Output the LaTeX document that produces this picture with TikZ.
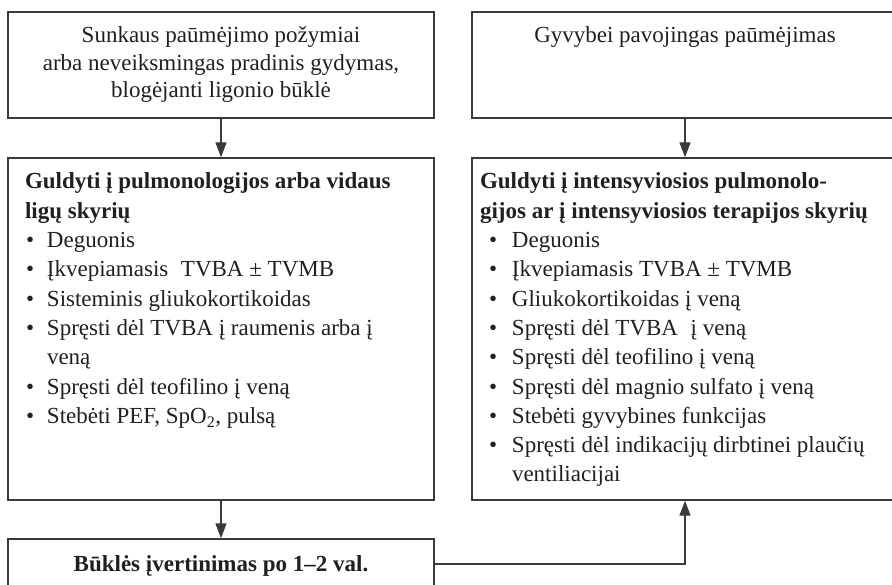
\documentclass[tikz,border=0pt]{standalone}
\usepackage{fontspec}
\setmainfont{Liberation Serif}
\usetikzlibrary{arrows.meta}
\definecolor{linec}{HTML}{3A3A3A}
\definecolor{textc}{HTML}{231F20}
\newcommand{\bul}[1]{\makebox[#1][l]{\textbullet}}
\begin{document}
\begin{tikzpicture}[x=1pt,y=-1pt,
  box/.style={draw=linec, line width=1.4pt, inner sep=0pt, minimum width=426pt},
  txt/.style={inner sep=0pt, outer sep=0pt, text=textc, anchor=base west},
  arr/.style={draw=linec, line width=1.4pt, -{Triangle[length=15pt,width=11pt]}}]
\clip (0,0) rectangle (892,585);
\fill[white] (0,0) rectangle (892,585);
% boxes
\node[box, minimum height=106pt] (b1) at (221,65) {};
\node[box, minimum height=106pt] (b2) at (685,65) {};
\node[box, minimum height=342pt] (b3) at (221,329) {};
\node[box, minimum height=342pt] (b4) at (685,329) {};
\node[box, minimum height=50pt]  (b5) at (221,564) {};
% texts
\node[txt] (t1) at (8,43) {\parbox[t]{426pt}{\fontsize{23}{27.5}\selectfont\centering
  Sunkaus paūmėjimo požymiai\\
  arba neveiksmingas pradinis gydymas,\\
  blogėjanti ligonio būklė\par}};
\node[txt] (t2) at (472,43) {\parbox[t]{426pt}{\fontsize{23}{27.5}\selectfont\centering
  Gyvybei pavojingas paūmėjimas\par}};
\node[txt] (h3) at (25,189) {\parbox[t]{405pt}{\fontsize{23}{29.3}\selectfont\bfseries
  Guldyti į pulmonologijos arba vidaus\\
  ligų skyrių\par}};
\node[txt] (l3) at (26,247.6) {\parbox[t]{405pt}{\fontsize{23}{29.3}\selectfont
  \bul{21pt}Deguonis\\
  \bul{21pt}Įkvepiamasis\hspace{0.3em} TVBA ± TVMB\\
  \bul{21pt}Sisteminis gliukokortikoidas\\
  \bul{21pt}Spręsti dėl TVBA į raumenis arba į\\
  \hspace*{21pt}veną\\
  \bul{21pt}Spręsti dėl teofilino į veną\\
  \bul{21pt}Stebėti PEF, SpO\textsubscript{2}, pulsą\par}};
\node[txt] (h4) at (480,189) {\parbox[t]{415pt}{\fontsize{23}{29.3}\selectfont\bfseries
  Guldyti į intensyviosios pulmonolo-\\
  gijos ar į intensyviosios terapijos skyrių\par}};
\node[txt] (l4) at (489,247.6) {\parbox[t]{400pt}{\fontsize{23}{29.3}\selectfont
  \bul{23pt}Deguonis\\
  \bul{23pt}Įkvepiamasis TVBA ± TVMB\\
  \bul{23pt}Gliukokortikoidas į veną\\
  \bul{23pt}Spręsti dėl TVBA\hspace{0.3em} į veną\\
  \bul{23pt}Spręsti dėl teofilino į veną\\
  \bul{23pt}Spręsti dėl magnio sulfato į veną\\
  \bul{23pt}Stebėti gyvybines funkcijas\\
  \bul{23pt}Spręsti dėl indikacijų dirbtinei plaučių\\
  \hspace*{23pt}ventiliacijai\par}};
\node[txt] (t5) at (8,571) {\parbox[t]{426pt}{\fontsize{23}{27.5}\selectfont\centering\bfseries
  Būklės įvertinimas po 1–2 val.\par}};
% connectors
\draw[arr] (b1.south) -- (b3.north);
\draw[arr] (b2.south) -- (b4.north);
\draw[arr] (b3.south) -- (b5.north);
\draw[arr] (b5.east) -| (b4.south);
\end{tikzpicture}
\end{document}
